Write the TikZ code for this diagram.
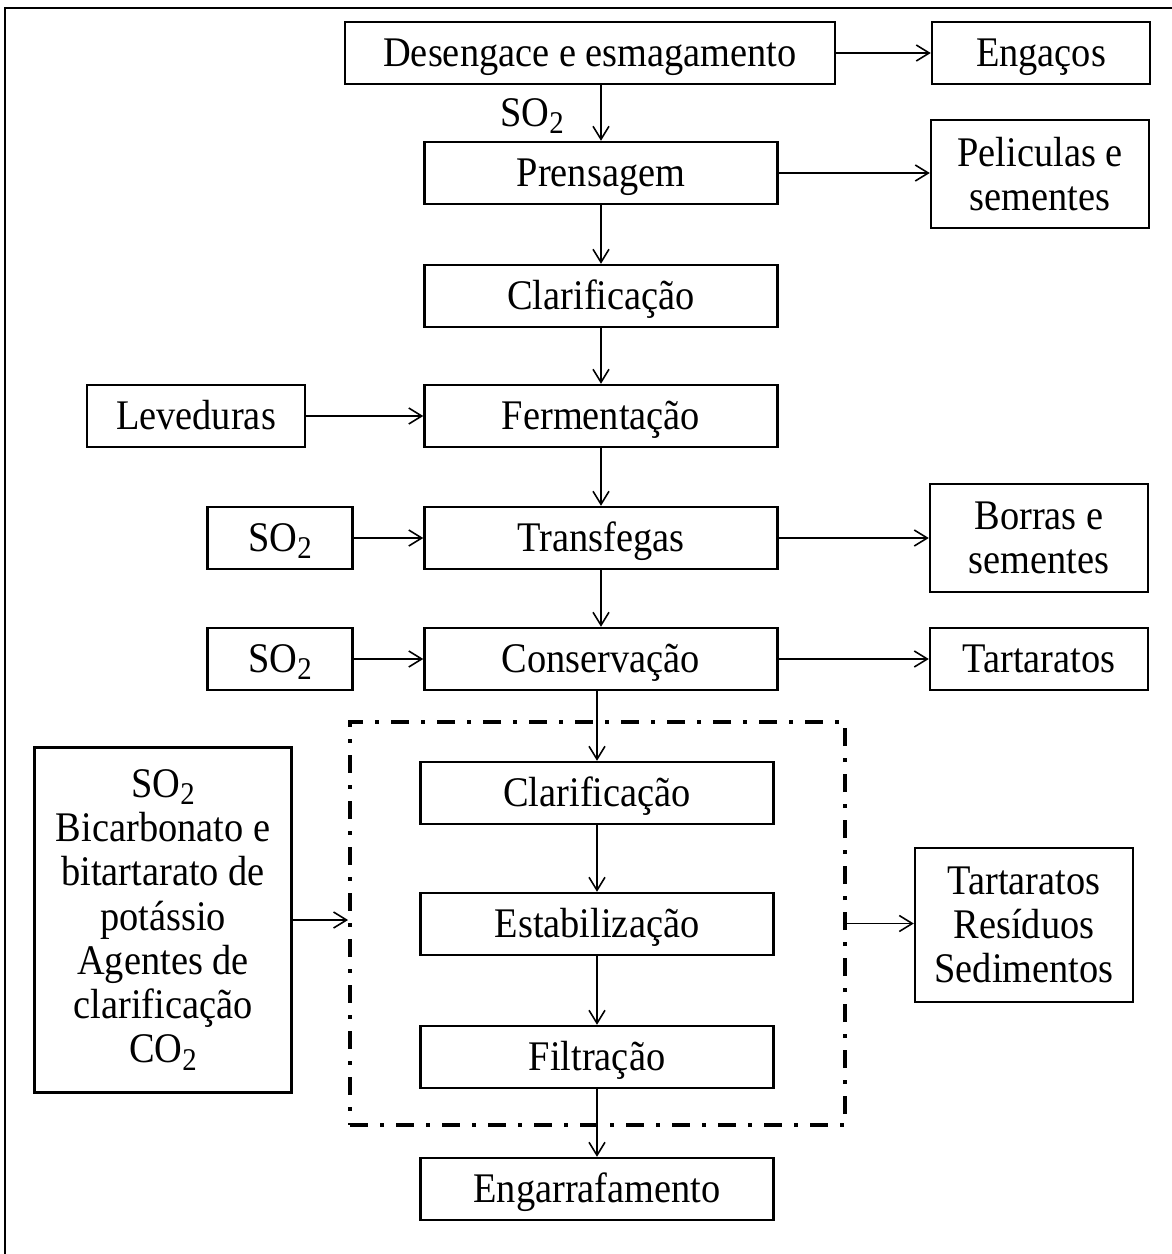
\documentclass[tikz,border=0pt]{standalone}
\usepackage{fontspec}
\setmainfont[FakeStretch=0.91]{Liberation Serif}
\usetikzlibrary{arrows.meta}
\newcommand{\subtwo}{\raisebox{-0.4ex}{\fontsize{9}{9}\selectfont 2}}
\tikzset{
  box/.style   = {draw, line width=0.7pt, minimum width=35.3mm, minimum height=6.2mm,
                  font=\fontsize{12}{12.5}\selectfont, align=center, inner sep=0pt},
  stage/.style = {box, text height=9pt, text depth=1.5pt},
  side/.style  = {stage, minimum width=21.8mm},
  note/.style  = {box, minimum width=21.8mm},
  dose/.style  = {stage, minimum width=14.5mm},
  lbl/.style   = {font=\fontsize{12}{12.5}\selectfont, inner sep=0pt},
  flow/.style  = {-{Straight Barb[length=1.3mm,width=1.6mm]}, line width=0.45pt},
  group/.style = {draw, line width=1.1pt, inner sep=0pt,
                  dash pattern=on 1.8mm off 1.2mm on 0.4mm off 1.2mm,
                  minimum width=49.5mm, minimum height=40.3mm},
}

\begin{document}
\begin{tikzpicture}[x=0.1mm, y=-0.1mm]
  \useasboundingbox (0,0) rectangle (1172,1254);
  % outer frame
  \draw[line width=0.7pt] (5,1254) -- (5,8) -- (1172,8);

  % main line
  \node[stage, minimum width=49mm] (desen) at (590,53) {Desengace e esmagamento};
  \node[stage] (prens) at (601,173) {Prensagem};
  \node[stage] (clar) at (601,296) {Clarificação};
  \node[stage] (ferm) at (601,416) {Fermentação};
  \node[stage] (transf) at (601,538) {Transfegas};
  \node[stage] (conserv) at (601,659) {Conservação};

  % stabilisation group
  \node[group] (grp) at (597.5,923.5) {};
  \node[stage] (clar2) at (597,793) {Clarificação};
  \node[stage] (estab) at (597,924) {Estabilização};
  \node[stage] (filtr) at (597,1057) {Filtração};
  \node[stage] (engarr) at (597,1189) {Engarrafamento};

  % inputs
  \node[lbl] (so2lbl) at (532,116) {SO\subtwo};
  \node[side] (leved) at (196,416) {Leveduras};
  \node[dose] (so2a) at (280,538) {SO\subtwo};
  \node[dose] (so2b) at (280,659) {SO\subtwo};
  \node[box, minimum width=25.7mm, minimum height=34.5mm,
        font=\fontsize{12}{12.6}\selectfont] (aditiv) at (163,920)
    {SO\subtwo\\Bicarbonato e\\bitartarato de\\potássio\\Agentes de\\clarificação\\CO\subtwo};

  % outputs
  \node[side] (engac) at (1041,53) {Engaços};
  \node[note, minimum height=10.8mm] (pelic) at (1040,174) {Peliculas e\\sementes};
  \node[note, minimum height=10.8mm] (borras) at (1039,538) {Borras e\\sementes};
  \node[side] (tart) at (1039,659) {Tartaratos};
  \node[note, minimum height=15.4mm] (resid) at (1024,925) {Tartaratos\\Resíduos\\Sedimentos};

  % connectors
  \draw[flow] (desen.east) -- (desen.east -| engac.west);
  \draw[flow] (desen.south -| prens.north) -- (prens.north);
  \draw[flow] (prens.east) -- (prens.east -| pelic.west);
  \draw[flow] (prens) -- (clar);
  \draw[flow] (clar) -- (ferm);
  \draw[flow] (leved) -- (ferm);
  \draw[flow] (ferm) -- (transf);
  \draw[flow] (so2a) -- (transf);
  \draw[flow] (transf) -- (borras);
  \draw[flow] (transf) -- (conserv);
  \draw[flow] (so2b) -- (conserv);
  \draw[flow] (conserv) -- (tart);
  \draw[flow] (clar2.north |- conserv.south) -- (clar2.north);
  \draw[flow] (clar2) -- (estab);
  \draw[flow] (estab) -- (filtr);
  \draw[flow] (filtr) -- (engarr);
  \draw[flow] (aditiv.east) -- (aditiv.east -| grp.west);
  \draw[flow] (grp.east) -- (grp.east -| resid.west);
\end{tikzpicture}
\end{document}
